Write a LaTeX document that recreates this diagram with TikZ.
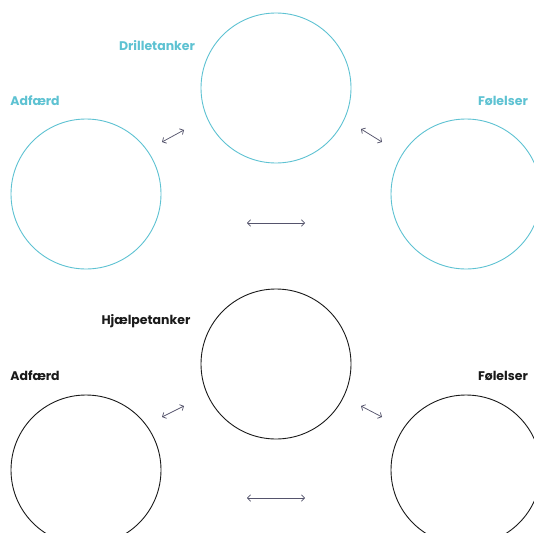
\documentclass[tikz,border=0pt]{standalone}
\usepackage{fontspec}
\setmainfont{Poppins}
\usetikzlibrary{arrows.meta,positioning}
\definecolor{Teal}{HTML}{5EC2D2}
\definecolor{Ink}{HTML}{1A1A1A}
\definecolor{Arrow}{HTML}{55546C}

\begin{document}
\begin{tikzpicture}[
  x=1pt,y=-1pt,
  ring/.style={circle,line width=0.9pt,minimum size=150pt,inner sep=0pt},
  lab/.style={font=\fontsize{12.5}{14}\selectfont\bfseries,inner sep=0pt},
  arr/.style={{Straight Barb[length=3pt,width=6.5pt]}-{Straight Barb[length=3pt,width=6.5pt]},line width=0.75pt,draw=Arrow}
]
  \useasboundingbox (0,0) rectangle (534,532);

  % top: drilletanker
  \node[ring,draw=Teal] (dt) at (276,88) {};
  \node[ring,draw=Teal] (dtA) at (86,194) {};
  \node[ring,draw=Teal] (dtF) at (466,194) {};
  \node[lab,text=Teal] (dtlab) at (157,46) {Drilletanker};
  \node[lab,text=Teal] (dtAlab) at (35,101) {Adfærd};
  \node[lab,text=Teal] (dtFlab) at (503,101) {Følelser};
  \coordinate (dtl1) at (162,142);
  \coordinate (dtl2) at (184,130);
  \coordinate (dtr1) at (361,129);
  \coordinate (dtr2) at (382,142);
  \coordinate (dtb1) at (247,223);
  \coordinate (dtb2) at (305,223);
  \draw[arr] (dtl1) -- (dtl2);
  \draw[arr] (dtr1) -- (dtr2);
  \draw[arr] (dtb1) -- (dtb2);

  % bottom: hjaelpetanker
  \node[ring,draw=Ink] (ht) at (276,364) {};
  \node[ring,draw=Ink] (htA) at (86,470) {};
  \node[ring,draw=Ink] (htF) at (466,470) {};
  \node[lab,text=Ink] (htlab) at (146,321) {Hjælpetanker};
  \node[lab,text=Ink] (htAlab) at (35,376) {Adfærd};
  \node[lab,text=Ink] (htFlab) at (503,376) {Følelser};
  \coordinate (htl1) at (162,417);
  \coordinate (htl2) at (184,406);
  \coordinate (htr1) at (361,406);
  \coordinate (htr2) at (382,417);
  \coordinate (htb1) at (247,498);
  \coordinate (htb2) at (305,498);
  \draw[arr] (htl1) -- (htl2);
  \draw[arr] (htr1) -- (htr2);
  \draw[arr] (htb1) -- (htb2);
\end{tikzpicture}
\end{document}
